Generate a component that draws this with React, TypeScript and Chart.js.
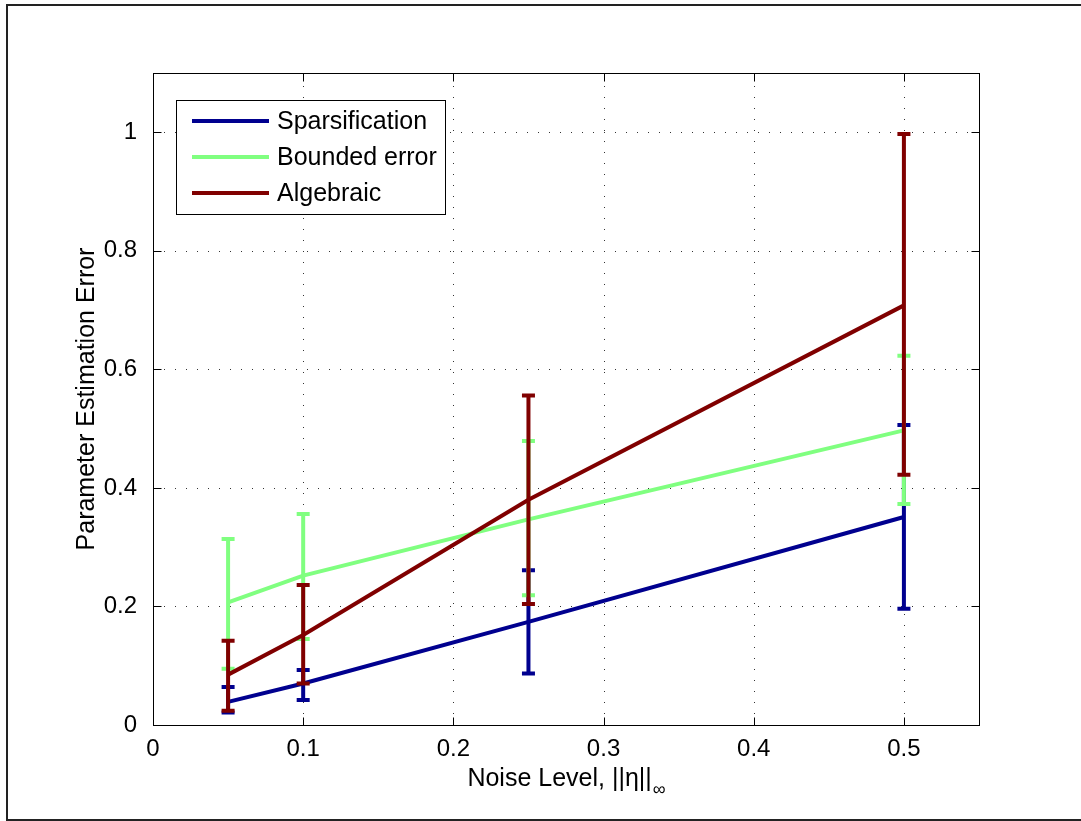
import React, { useEffect, useRef } from "react";
import { Chart, registerables } from "chart.js";

Chart.register(...registerables);

const noiseLevels = [0.05, 0.1, 0.25, 0.5];

const sparseMean = [0.039, 0.07, 0.174, 0.351];
const sparseLow = [0.021, 0.042, 0.087, 0.196];
const sparseHigh = [0.064, 0.093, 0.261, 0.506];

const boundedMean = [0.207, 0.252, 0.347, 0.497];
const boundedLow = [0.095, 0.145, 0.219, 0.373];
const boundedHigh = [0.314, 0.356, 0.479, 0.623];

const algebraicMean = [0.085, 0.152, 0.38, 0.708];
const algebraicLow = [0.024, 0.07, 0.204, 0.422];
const algebraicHigh = [0.142, 0.236, 0.556, 0.997];

const seriesNames = ["Sparsification", "Bounded error", "Algebraic"];
const seriesColors = ["#00008f", "#80ff80", "#800000"];

const xTicks = [0, 0.1, 0.2, 0.3, 0.4, 0.5];
const xTickLabels = ["0", "0.1", "0.2", "0.3", "0.4", "0.5"];
const yTicks = [0, 0.2, 0.4, 0.6, 0.8, 1];
const yTickLabels = ["0", "0.2", "0.4", "0.6", "0.8", "1"];

const xTitle = "Noise Level, ||η||";
const xTitleSub = "∞";
const yTitle = "Parameter Estimation Error";

const FONT = "'Liberation Sans', Arial, Helvetica, sans-serif";

const axesPlugin = {
  id: "matlabAxes",
  beforeDatasetsDraw(chart: any) {
    const { ctx, chartArea: a, scales } = chart;
    ctx.save();
    ctx.strokeStyle = "#333";
    ctx.lineWidth = 1;
    ctx.setLineDash([1, 10]);
    for (const v of xTicks) {
      const x = Math.round(scales.x.getPixelForValue(v)) + 0.5;
      ctx.beginPath();
      ctx.moveTo(x, a.bottom);
      ctx.lineTo(x, a.top);
      ctx.stroke();
    }
    for (const v of yTicks) {
      const y = Math.round(scales.y.getPixelForValue(v)) + 0.5;
      ctx.beginPath();
      ctx.moveTo(a.left, y);
      ctx.lineTo(a.right, y);
      ctx.stroke();
    }
    ctx.restore();
  },
  afterDatasetsDraw(chart: any) {
    const { ctx, chartArea: a, scales } = chart;
    ctx.save();
    ctx.strokeStyle = "#000";
    ctx.lineWidth = 1;
    ctx.setLineDash([]);
    const L = Math.round(a.left) + 0.5;
    const R = Math.round(a.right) + 0.5;
    const T = Math.round(a.top) + 0.5;
    const B = Math.round(a.bottom) + 0.5;
    ctx.strokeRect(L, T, R - L, B - T);
    const tl = 8;
    ctx.beginPath();
    for (const v of xTicks) {
      const x = Math.round(scales.x.getPixelForValue(v)) + 0.5;
      ctx.moveTo(x, B);
      ctx.lineTo(x, B - tl);
      ctx.moveTo(x, T);
      ctx.lineTo(x, T + tl);
    }
    for (const v of yTicks) {
      const y = Math.round(scales.y.getPixelForValue(v)) + 0.5;
      ctx.moveTo(L, y);
      ctx.lineTo(L + tl, y);
      ctx.moveTo(R, y);
      ctx.lineTo(R - tl, y);
    }
    ctx.stroke();
    ctx.restore();
  },
  afterDatasetDraw(chart: any, args: any) {
    const ds = chart.data.datasets[args.index];
    const { ctx, scales } = chart;
    ctx.save();
    ctx.strokeStyle = ds.borderColor;
    ctx.lineWidth = 4;
    ctx.lineCap = "butt";
    ds.xs.forEach((xv: number, i: number) => {
      const x = scales.x.getPixelForValue(xv);
      const yl = scales.y.getPixelForValue(ds.lo[i]);
      const yh = scales.y.getPixelForValue(ds.hi[i]);
      ctx.beginPath();
      ctx.moveTo(x, yl);
      ctx.lineTo(x, yh);
      ctx.moveTo(x - 6.5, yl);
      ctx.lineTo(x + 6.5, yl);
      ctx.moveTo(x - 6.5, yh);
      ctx.lineTo(x + 6.5, yh);
      ctx.stroke();
    });
    ctx.restore();
  },
  afterDraw(chart: any) {
    const { ctx, chartArea: a } = chart;
    ctx.save();
    // legend
    const lx = 176.5, ly = 100.5, lw = 269, lh = 114;
    ctx.fillStyle = "#fff";
    ctx.fillRect(lx, ly, lw, lh);
    ctx.strokeStyle = "#000";
    ctx.lineWidth = 1;
    ctx.strokeRect(lx, ly, lw, lh);
    const rows = [121, 157, 193];
    ctx.font = `25px ${FONT}`;
    ctx.textBaseline = "middle";
    ctx.textAlign = "left";
    seriesNames.forEach((name, i) => {
      ctx.strokeStyle = seriesColors[i];
      ctx.lineWidth = 4;
      ctx.beginPath();
      ctx.moveTo(192, rows[i]);
      ctx.lineTo(269, rows[i]);
      ctx.stroke();
      ctx.fillStyle = "#000";
      ctx.fillText(name, 277, rows[i] + 1);
    });
    // x title with subscript
    ctx.font = `25px ${FONT}`;
    const w1 = ctx.measureText(xTitle).width;
    ctx.font = `18px ${FONT}`;
    const w2 = ctx.measureText(xTitleSub).width;
    const cx = (a.left + a.right) / 2;
    const sx = cx - (w1 + w2) / 2;
    ctx.textBaseline = "alphabetic";
    ctx.fillStyle = "#000";
    ctx.font = `25px ${FONT}`;
    ctx.fillText(xTitle, sx, 786);
    ctx.font = `18px ${FONT}`;
    ctx.fillText(xTitleSub, sx + w1 + 1, 795);
    // y title
    ctx.translate(87, (a.top + a.bottom) / 2);
    ctx.rotate(-Math.PI / 2);
    ctx.font = `25px ${FONT}`;
    ctx.textAlign = "center";
    ctx.textBaseline = "middle";
    ctx.fillText(yTitle, 0, 0);
    ctx.restore();
    // outer frame
    ctx.save();
    ctx.strokeStyle = "#222";
    ctx.lineWidth = 2;
    ctx.strokeRect(7, 5, 1100, 815);
    ctx.restore();
  },
};

export default function App() {
  const ref = useRef<HTMLCanvasElement>(null);
  useEffect(() => {
    if (!ref.current) return;
    const mk = (mean: number[], lo: number[], hi: number[], i: number, order: number) => ({
      label: seriesNames[i],
      data: noiseLevels.map((x, k) => ({ x, y: mean[k] })),
      xs: noiseLevels,
      lo,
      hi,
      borderColor: seriesColors[i],
      backgroundColor: seriesColors[i],
      borderWidth: 4,
      pointRadius: 0,
      tension: 0,
      fill: false,
      order,
    });
    const chart = new Chart(ref.current, {
      type: "line",
      data: {
        datasets: [
          mk(sparseMean, sparseLow, sparseHigh, 0, 3),
          mk(boundedMean, boundedLow, boundedHigh, 1, 2),
          mk(algebraicMean, algebraicLow, algebraicHigh, 2, 1),
        ] as any,
      },
      options: {
        responsive: false,
        animation: false,
        events: [],
        layout: { padding: { left: 0, top: 73, right: 102, bottom: 0 } },
        plugins: { legend: { display: false }, tooltip: { enabled: false } },
        scales: {
          x: {
            type: "linear",
            min: 0,
            max: 0.55,
            grid: { display: false },
            border: { display: false },
            afterBuildTicks: (s: any) => {
              s.ticks = xTicks.map((v) => ({ value: v }));
            },
            afterFit: (s: any) => {
              s.height = 96;
            },
            ticks: {
              padding: 2,
              maxRotation: 0,
              color: "#000",
              font: { family: FONT, size: 24 },
              callback: (_v: any, i: number) => xTickLabels[i],
            },
          },
          y: {
            type: "linear",
            min: 0,
            max: 1.1,
            grid: { display: false },
            border: { display: false },
            afterBuildTicks: (s: any) => {
              s.ticks = yTicks.map((v) => ({ value: v }));
            },
            afterFit: (s: any) => {
              s.width = 153;
            },
            ticks: {
              padding: 8,
              color: "#000",
              font: { family: FONT, size: 24 },
              callback: (_v: any, i: number) => yTickLabels[i],
            },
          },
        },
      } as any,
      plugins: [axesPlugin],
    });
    return () => chart.destroy();
  }, []);
  return (
    <div style={{ position: "absolute", left: 0, top: 0, width: 1081, height: 821, background: "#fff" }}>
      <canvas ref={ref} width={1081} height={821} style={{ display: "block" }} />
    </div>
  );
}
